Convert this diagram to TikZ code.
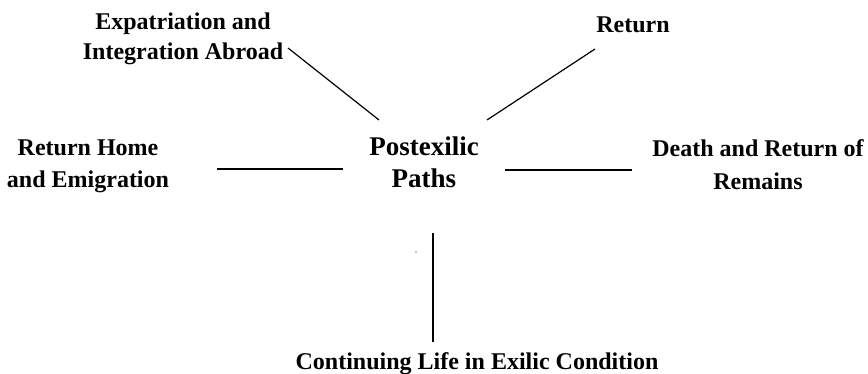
\documentclass[tikz,border=0pt]{standalone}
\usepackage{fontspec}
\setmainfont{Liberation Serif}

\begin{document}
\begin{tikzpicture}[x=1pt, y=-1pt,
    pathlbl/.style={font=\fontsize{24}{31}\selectfont\bfseries, align=center, inner sep=0pt},
    hublbl/.style={font=\fontsize{27}{32}\selectfont\bfseries, align=center, inner sep=0pt},
    spoke/.style={line width=1.2pt}]
    \useasboundingbox (0, 0) rectangle (868, 374);

    \node[hublbl] (hub) at (424, 162) {Postexilic\\Paths};

    \node[pathlbl, font=\fontsize{24}{30}\selectfont\bfseries] (expat) at (183, 38.5) {Expatriation and\\Integration Abroad};
    \node[pathlbl, anchor=base] (ret) at (633, 33) {Return};
    \node[pathlbl, font=\fontsize{24}{32}\selectfont\bfseries] (home) at (88, 166) {Return Home\\and Emigration};
    \node[pathlbl, font=\fontsize{24}{33}\selectfont\bfseries] (death) at (758, 164.5) {Death and Return of\\Remains};
    \node[pathlbl, anchor=base] (cont) at (477, 369) {Continuing Life in Exilic Condition};

    % free ends of the spokes
    \coordinate (expat-end) at (288, 48);
    \coordinate (expat-hub) at (379, 120);
    \coordinate (ret-end) at (595, 49);
    \coordinate (ret-hub) at (487, 120);
    \coordinate (home-end) at (217, 169);
    \coordinate (home-hub) at (343, 169);
    \coordinate (death-end) at (632, 170);
    \coordinate (death-hub) at (505, 170);
    \coordinate (cont-end) at (433, 342);
    \coordinate (cont-hub) at (433, 233);

    \draw[spoke] (expat-end)--(expat-hub);
    \draw[spoke] (ret-end)--(ret-hub);
    \draw[spoke] (home-end)--(home-hub);
    \draw[spoke] (death-end)--(death-hub);
    \draw[spoke] (cont-end)--(cont-hub);

    \fill (416, 252) circle (0.6);
\end{tikzpicture}
\end{document}
